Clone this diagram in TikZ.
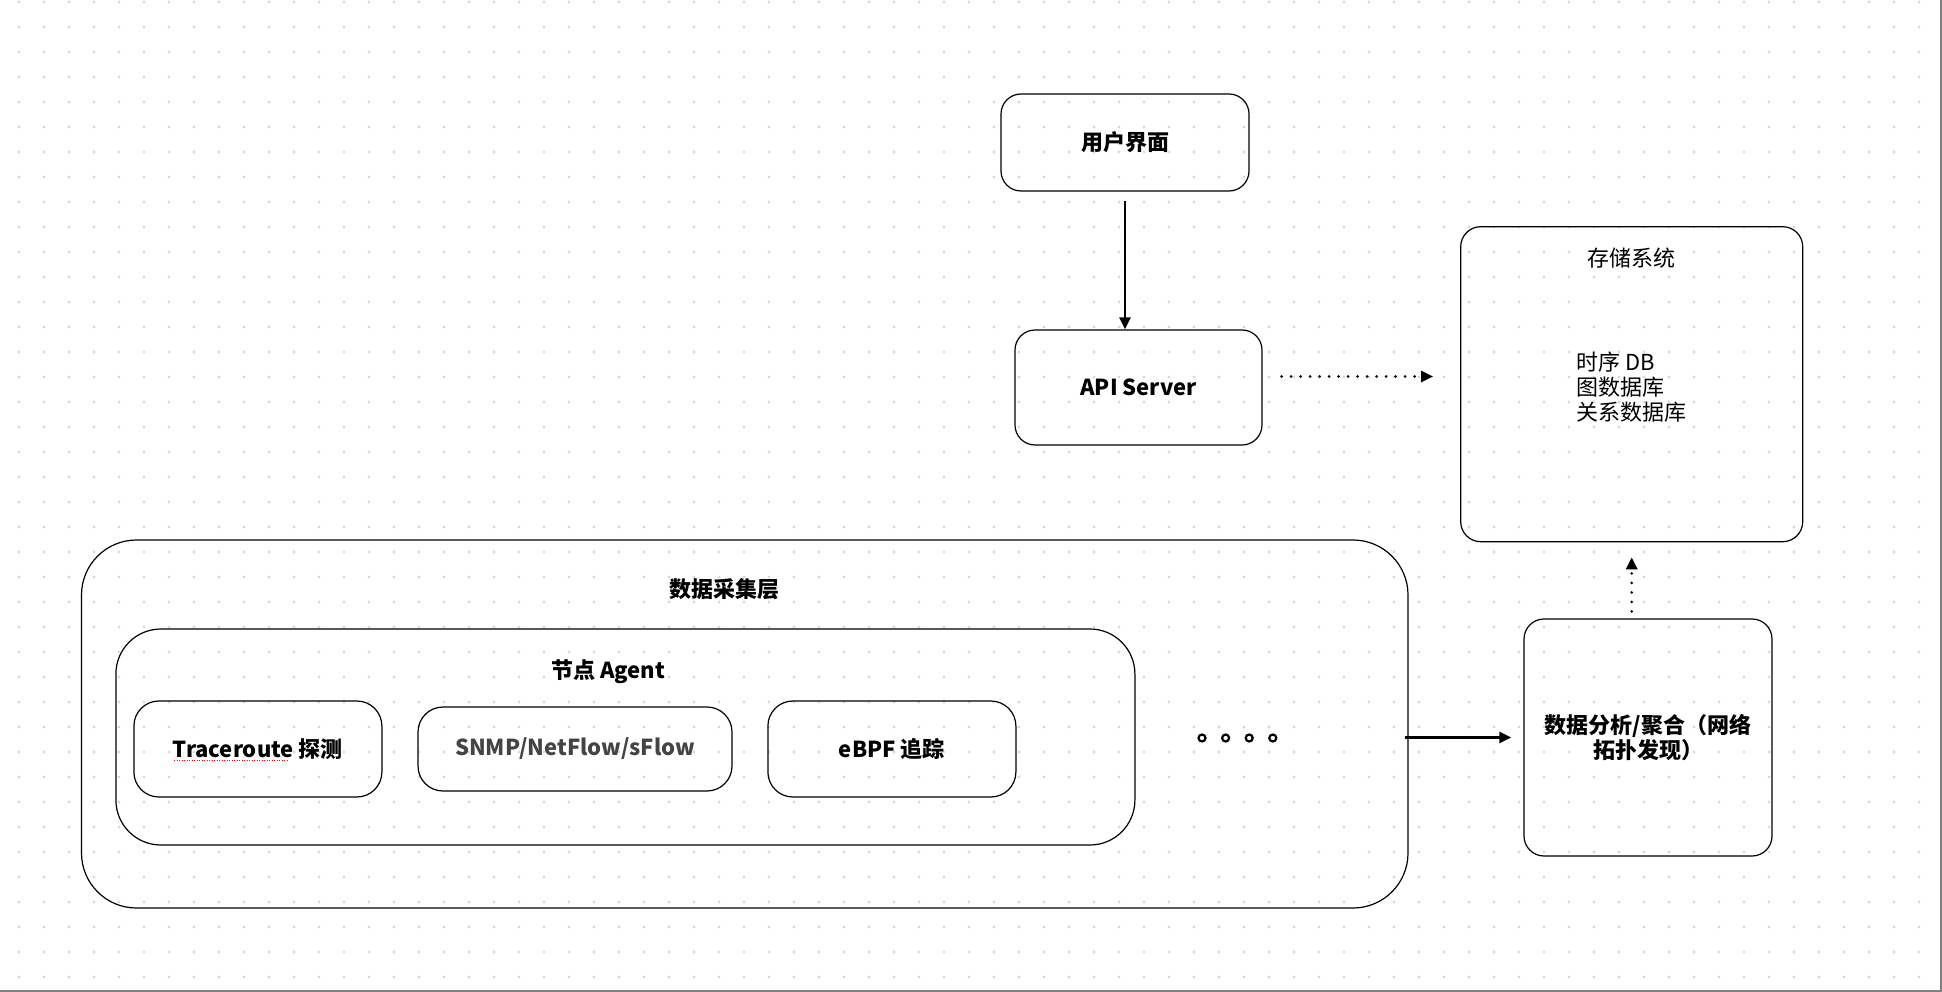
\documentclass[tikz,border=0pt]{standalone}
\usepackage{fontspec}
\setmainfont{Noto Sans CJK SC}
\usetikzlibrary{arrows.meta}
\definecolor{griddot}{HTML}{D9D9D9}
\definecolor{snmpgray}{HTML}{444444}
\begin{document}
\begin{tikzpicture}[x=1pt,y=-1pt,
        box/.style={draw,line width=1.2pt,rounded corners=20pt,inner sep=0pt},
        title/.style={font=\fontsize{22}{25}\selectfont\bfseries},
        plain/.style={font=\fontsize{22}{25}\selectfont},
        ring/.style={circle,draw,line width=2.2pt,minimum size=7pt,inner sep=0pt},
        flow/.style={line width=2.5pt,-{Triangle[length=12pt,width=11pt]}},
        dotflow/.style={line width=2.8pt,dash pattern=on 0pt off 9.5pt,line cap=round,-{Triangle[length=12pt,width=11pt]}}]
    \useasboundingbox (0,0) rectangle (1942,992);
    \foreach \i in {0,...,76}
        \foreach \j in {0,...,39}
            \fill[griddot] (19+25*\i,2+25*\j) circle (1.7pt);
    \draw[gray,line width=1.5pt] (1941.2,0) -- (1941.2,991.2) -- (0,991.2);
    \node[box,title,minimum width=248pt,minimum height=97pt] (ui) at (1125,142.5) {用户界面};
    \node[box,title,minimum width=247pt,minimum height=115pt] (api) at (1138.5,387.5) {API Server};
    \node[box,minimum width=342pt,minimum height=315pt] (store) at (1631.7,384.2) {};
    \node[plain] (store-title) at (1631.7,258) {存储系统};
    \node[plain,align=left,anchor=west] (store-list) at (1573,387) {时序 DB\\图数据库\\关系数据库};
    \node[box,title,align=center,minimum width=248pt,minimum height=237pt] (ana) at (1648,737.5) {数据分析/聚合（网络\\拓扑发现）};
    \node[box,rounded corners=55pt,minimum width=1326.5pt,minimum height=368pt] (collect) at (744.75,724) {};
    \node[title] (collect-title) at (724.5,589) {数据采集层};
    \node[box,rounded corners=45pt,minimum width=1019pt,minimum height=216pt] (agent) at (625.4,737) {};
    \node[title] (agent-title) at (608,671.5) {节点 Agent};
    \node[box,title,rounded corners=25pt,minimum width=248pt,minimum height=96pt] (trace) at (257.9,749) {Traceroute 探测};
    \node[box,title,rounded corners=25pt,text=snmpgray,minimum width=314pt,minimum height=84pt] (snmp) at (575,749) {SNMP/NetFlow/sFlow};
    \node[box,title,rounded corners=25pt,minimum width=248pt,minimum height=96pt] (ebpf) at (891.9,749) {eBPF 追踪};
    \draw[red,line width=1pt,dash pattern=on 1pt off 1.5pt] (174,760) -- (289,760);
    \foreach \i/\x in {1/1202, 2/1225.6, 3/1249.2, 4/1272.8}
        \node[ring] (more-\i) at (\x,738) {};
    \draw[flow,shorten <=9pt] (ui.south) -- (ui.south |- api.north);
    \draw[dotflow,shorten <=19pt,shorten >=27pt] ([yshift=11pt]api.east) -- ([yshift=11pt]api.east -| store.west);
    \draw[dotflow,shorten <=7pt,shorten >=15pt] (store.south |- ana.north) -- (store.south);
    \draw[flow,shorten >=12pt,shorten <=-4pt] (ana.west -| collect.east) -- (ana.west);
\end{tikzpicture}
\end{document}
